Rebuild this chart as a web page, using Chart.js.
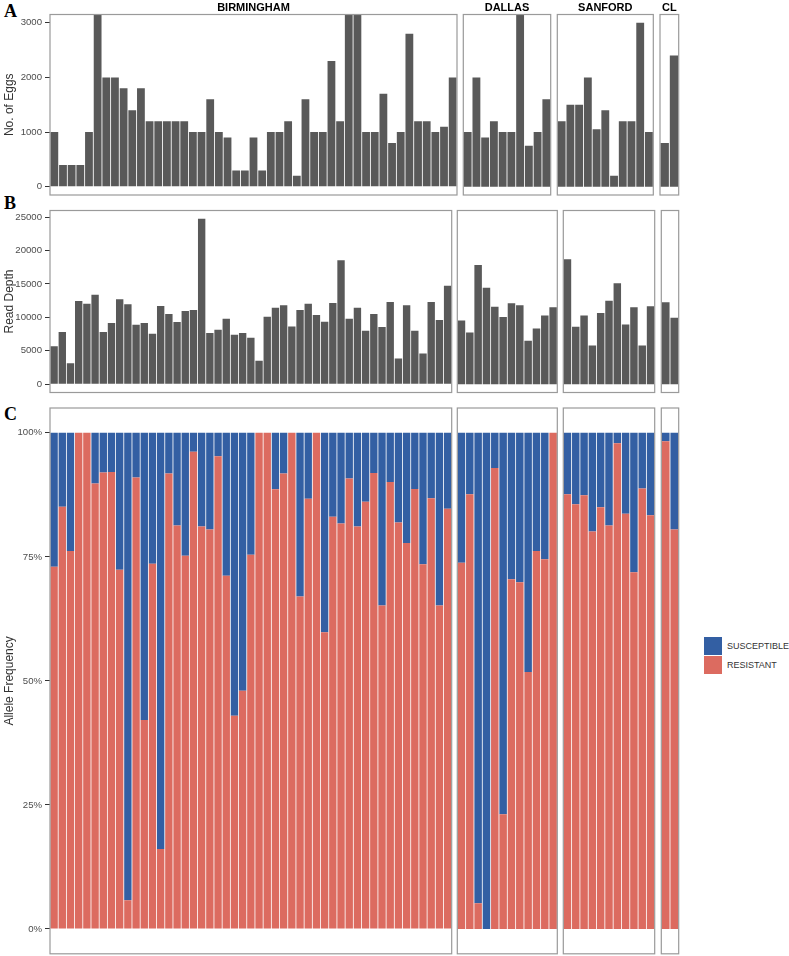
<!DOCTYPE html>
<html>
<head>
<meta charset="utf-8">
<script src="https://cdn.jsdelivr.net/npm/chart.js@4.4.1/dist/chart.umd.min.js"></script>
<style>
  html, body { margin: 0; padding: 0; background: #fff; }
  #fig { position: relative; width: 789px; height: 956px; overflow: hidden; font-family: "Liberation Sans", Arial, sans-serif; }
  #fig canvas { position: absolute; }
  .tag { position: absolute; font: bold 18px "Liberation Serif", "Times New Roman", serif; line-height: 1; color: #000; }
  .key { position: absolute; width: 18px; height: 18px; }
  .lab { position: absolute; font-size: 9px; line-height: 12px; color: #333; white-space: nowrap; }
</style>
</head>
<body>
<div id="fig">
  <div class="tag" style="left:4px;top:2px">A</div>
  <div class="tag" style="left:4px;top:194px">B</div>
  <div class="tag" style="left:4px;top:405px">C</div>

  <div class="key" style="left:704px;top:637px;background:#335fa3"></div>
  <div class="key" style="left:704px;top:656px;background:#dc6b60"></div>
  <div class="lab" style="left:727px;top:640px">SUSCEPTIBLE</div>
  <div class="lab" style="left:727px;top:659px">RESISTANT</div>
</div>
<script>
const sites = ["BIRMINGHAM", "DALLAS", "SANFORD", "CL"];

// A - number of eggs per sample (bars above 3000 run off the panel)
const eggsBirmingham = [1000, 400, 400, 400, 1000, 3500, 2000, 2000, 1800, 1400, 1800, 1200, 1200, 1200, 1200, 1200, 1000, 1000, 1600, 1000, 900, 300, 300, 900, 300, 1000, 1000, 1200, 200, 1600, 1000, 1000, 2300, 1200, 3500, 3500, 1000, 1000, 1700, 800, 1000, 2800, 1200, 1200, 1000, 1100, 2000];
const eggsDallas = [1000, 2000, 900, 1200, 1000, 1000, 3500, 750, 1000, 1600];
const eggsSanford = [1200, 1500, 1500, 2000, 1050, 1400, 200, 1200, 1200, 3000, 1000];
const eggsCL = [800, 2400];

// B - read depth
const depthBirmingham = [5700, 7800, 3150, 12450, 12050, 13400, 7800, 9150, 12700, 11950, 8900, 9150, 7550, 11700, 10500, 9300, 10950, 11100, 24750, 7650, 8150, 9800, 7400, 7650, 6950, 3500, 10100, 11450, 11800, 8650, 11100, 12050, 10350, 9350, 12150, 18550, 9800, 11450, 8000, 10500, 8550, 12300, 3850, 11800, 8000, 4600, 12300, 9600, 14750];
const depthDallas = [9550, 7750, 17850, 14450, 11600, 10050, 12100, 11800, 6500, 8350, 10300, 11500];
const depthSanford = [18700, 8600, 10300, 5800, 10650, 12500, 15100, 8950, 11500, 5800, 11650];
const depthCL = [12250, 9950];

// C - allele frequency (%)
const resBirmingham = [73.0, 85.1, 76.2, 100, 100, 89.8, 92.0, 92.1, 72.4, 5.8, 91.0, 42.1, 73.6, 16.1, 91.8, 81.3, 75.2, 96.2, 81.1, 80.5, 95.3, 71.2, 43.0, 48.0, 75.4, 100, 100, 88.6, 91.8, 100, 67.0, 86.7, 100, 59.8, 83.1, 81.7, 90.8, 81.1, 86.1, 91.9, 65.2, 90.1, 81.9, 77.8, 88.7, 73.5, 86.8, 65.2, 84.7];
const susBirmingham = [27.0, 14.9, 23.8, 0, 0, 10.2, 8.0, 7.9, 27.6, 94.2, 9.0, 57.9, 26.4, 83.9, 8.2, 18.7, 24.8, 3.8, 18.9, 19.5, 4.7, 28.8, 57.0, 52.0, 24.6, 0, 0, 11.4, 8.2, 0, 33.0, 13.3, 0, 40.2, 16.9, 18.3, 9.2, 18.9, 13.9, 8.1, 34.8, 9.9, 18.1, 22.2, 11.3, 26.5, 13.2, 34.8, 15.3];
const resDallas = [73.8, 87.6, 5.2, 0, 92.9, 23.1, 70.5, 69.9, 51.8, 76.2, 74.5, 100];
const susDallas = [26.2, 12.4, 94.8, 100, 7.1, 76.9, 29.5, 30.1, 48.2, 23.8, 25.5, 0];
const resSanford = [87.6, 85.6, 87.4, 80.1, 85.0, 81.3, 97.9, 83.7, 71.9, 88.8, 83.4];
const susSanford = [12.4, 14.4, 12.6, 19.9, 15.0, 18.7, 2.1, 16.3, 28.1, 11.2, 16.6];
const resCL = [98.3, 80.5];
const susCL = [1.7, 19.5];

const eggTicks = [0, 1000, 2000, 3000];
const depthTicks = [0, 5000, 10000, 15000, 20000, 25000];
const freqTicks = [0, 25, 50, 75, 100];

const FONT = "'Liberation Sans', Arial, sans-serif";
const GREY = "#595959";
const BLUE = "#335fa3";
const RED = "#dc6b60";

Chart.defaults.font.family = FONT;

const fig = document.getElementById("fig");

// facet boxes (panel x ranges) for each row
const xA = [[50, 457], [463.3, 550.7], [557.3, 653.3], [660, 678.7]];
const xBC = [[50, 451.7], [457.3, 557.3], [563.3, 654.7], [661.3, 678.7]];

const panelBorder = {
  id: "panelBorder",
  afterDatasetsDraw(chart) {
    const { ctx, chartArea: a } = chart;
    ctx.save();
    ctx.strokeStyle = "#9a9a9a";
    ctx.lineWidth = 1.2;
    ctx.strokeRect(a.left, a.top, a.right - a.left, a.bottom - a.top);
    ctx.restore();
  },
};

function makeFacet(o) {
  const axisW = o.yTitle ? 50 : 0;
  const stripH = o.strip ? 14 : 0;
  const left = Math.floor(o.x0 - axisW) - (axisW ? 0 : 1);
  const top = Math.floor(o.y0 - stripH) - (stripH ? 0 : 1);
  const right = Math.ceil(o.x1) + 1;
  const bottom = Math.ceil(o.y1) + 1;

  const canvas = document.createElement("canvas");
  canvas.width = right - left;
  canvas.height = bottom - top;
  canvas.style.left = left + "px";
  canvas.style.top = top + "px";
  fig.appendChild(canvas);

  const labels = o.datasets[0].data.map((_, i) => String(i + 1));

  new Chart(canvas, {
    type: "bar",
    data: {
      labels,
      datasets: o.datasets.map((d) => ({
        label: d.label,
        data: d.data,
        backgroundColor: d.color,
        borderWidth: 0,
        barPercentage: 0.9,
        categoryPercentage: 1,
        clip: 0,
      })),
    },
    options: {
      responsive: false,
      animation: false,
      devicePixelRatio: 1,
      layout: {
        padding: {
          left: o.x0 - axisW - left,
          top: o.y0 - stripH - top,
          right: right - o.x1,
          bottom: bottom - o.y1,
        },
      },
      plugins: {
        legend: { display: false },
        tooltip: { enabled: false },
        title: {
          display: !!o.strip,
          text: o.strip || "",
          fullSize: false,
          color: "#000",
          font: { size: 11, weight: "bold", lineHeight: 1.2 },
          padding: { top: 1.3, bottom: 0 },
        },
      },
      scales: {
        x: { display: false, stacked: true },
        y: {
          display: !!o.yTitle,
          stacked: true,
          min: o.min,
          max: o.max,
          afterBuildTicks: (s) => { s.ticks = o.ticks.map((v) => ({ value: v })); },
          afterFit: (s) => { s.width = axisW; s.paddingTop = 0; s.paddingBottom = 0; },
          ticks: {
            color: "#4d4d4d",
            font: { size: 9.6 },
            padding: 3,
            callback: o.fmt,
          },
          grid: { drawOnChartArea: false, drawTicks: true, tickLength: 5, color: "#333", lineWidth: 1 },
          border: { display: false },
          title: {
            display: !!o.yTitle,
            text: o.yTitle || "",
            color: "#333",
            font: { size: 12, lineHeight: 1.2 },
            padding: { top: 2, bottom: 0 },
          },
        },
      },
    },
    plugins: [panelBorder],
  });
}

const eggSets = [eggsBirmingham, eggsDallas, eggsSanford, eggsCL];
const depthSets = [depthBirmingham, depthDallas, depthSanford, depthCL];
const resSets = [resBirmingham, resDallas, resSanford, resCL];
const susSets = [susBirmingham, susDallas, susSanford, susCL];

sites.forEach((site, i) => {
  const first = i === 0;
  makeFacet({
    x0: xA[i][0], x1: xA[i][1], y0: 14, y1: 195,
    strip: site,
    yTitle: first ? "No. of Eggs" : null,
    min: -150, max: 3150, ticks: eggTicks,
    fmt: (v) => String(v),
    datasets: [{ label: "Eggs", data: eggSets[i], color: GREY }],
  });
  makeFacet({
    x0: xBC[i][0], x1: xBC[i][1], y0: 210.5, y1: 392.5,
    yTitle: first ? "Read Depth" : null,
    min: -1237, max: 25990, ticks: depthTicks,
    fmt: (v) => String(v),
    datasets: [{ label: "Read Depth", data: depthSets[i], color: GREY }],
  });
  makeFacet({
    x0: xBC[i][0], x1: xBC[i][1], y0: 408, y1: 953.8,
    yTitle: first ? "Allele Frequency" : null,
    min: -5, max: 105, ticks: freqTicks,
    fmt: (v) => v + "%",
    datasets: [
      { label: "RESISTANT", data: resSets[i], color: RED },
      { label: "SUSCEPTIBLE", data: susSets[i], color: BLUE },
    ],
  });
});
</script>
</body>
</html>
